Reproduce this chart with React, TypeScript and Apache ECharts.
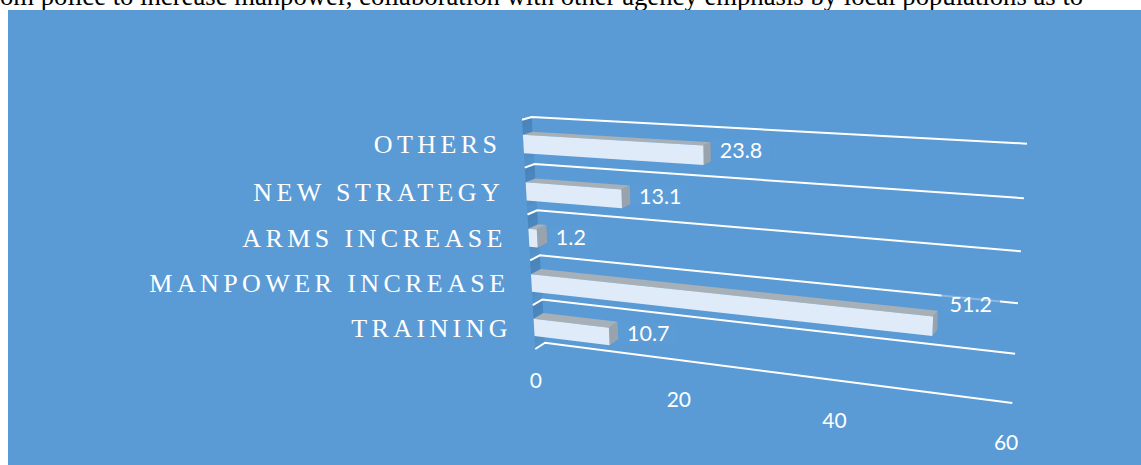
import React, { useEffect, useRef } from "react";
import * as echarts from "echarts";

const categories = ["OTHERS", "NEW STRATEGY", "ARMS INCREASE", "MANPOWER INCREASE", "TRAINING"];
const values = [23.8, 13.1, 1.2, 51.2, 10.7];
const valueTicks = [0, 20, 40, 60];
const bodyLine = "om police to increase manpower, collaboration with other agency emphasis by local populations as to";

type Pt = [number, number];
const GRID = { left: 100, top: 100, width: 600, height: 300 };

// perspective plane: unit square -> quadrilateral (tl, tr, br, bl)
function makeHomography(q: Pt[]) {
  const [[x0, y0], [x1, y1], [x2, y2], [x3, y3]] = q;
  const dx1 = x1 - x2, dx2 = x3 - x2, sx = x0 - x1 + x2 - x3;
  const dy1 = y1 - y2, dy2 = y3 - y2, sy = y0 - y1 + y2 - y3;
  const det = dx1 * dy2 - dx2 * dy1;
  const g = (sx * dy2 - dx2 * sy) / det;
  const h = (dx1 * sy - sx * dy1) / det;
  const a = x1 - x0 + g * x1, b = x3 - x0 + h * x3, c = x0;
  const d = y1 - y0 + g * y1, e = y3 - y0 + h * y3, f = y0;
  return (u: number, w: number): Pt => {
    const z = g * u + h * w + 1;
    return [(a * u + b * w + c) / z, (d * u + e * w + f) / z];
  };
}
const front = makeHomography([[522, 119.7], [1024, 147], [1008, 410], [535.3, 349]]);
const back = makeHomography([[531.7, 117], [1027, 143.7], [1012.3, 403], [545, 342.7]]);

const BAR_TOP = 0.31, BAR_BOTTOM = 0.7;
const PANEL = "#5B9BD5";
const LABEL_PAD = 8;
const labelNudge = [-2, 1, 3, -16, 3];

const toUnit = (p: number[]): Pt => [(p[0] - GRID.left) / GRID.width, (p[1] - GRID.top) / GRID.height];

function rowEdges(api: any, cat: number) {
  const centre = toUnit(api.coord([0, cat]));
  const band = api.size([0, 1])[1] / GRID.height;
  return { start: centre[1] - band / 2, band };
}

const poly = (points: Pt[], fill: string, z2 = 0) => ({
  type: "polygon",
  z2,
  shape: { points },
  style: { fill, stroke: "none" },
});

function renderWall(_: any, api: any) {
  const cat = api.value(0) as number;
  const { start, band } = rowEdges(api, cat);
  const children: any[] = [];
  const steps = 6;
  for (let i = 0; i < steps; i++) {
    const a = start + (band * i) / steps;
    const b = start + (band * (i + 1)) / steps;
    children.push(poly([front(0, a), back(0, a), back(0, b), front(0, b)], `rgba(56,110,160,${0.5 - (i * 0.38) / steps})`));
  }
  return { type: "group", children };
}

function renderRule(_: any, api: any) {
  const w = api.value(0) as number;
  const t = toUnit(api.coord([60, 0]));
  const points = [front(0, w), back(0, w), back(t[0], w)];
  return {
    type: "polyline",
    shape: { points },
    style: { stroke: "#ffffff", lineWidth: 2, fill: "none" },
  };
}

function renderBar(_: any, api: any) {
  const v = api.value(0) as number;
  const cat = api.value(1) as number;
  const { start, band } = rowEdges(api, cat);
  const u = toUnit(api.coord([v, cat]))[0];
  const w0 = start + band * BAR_TOP;
  const w1 = start + band * BAR_BOTTOM;
  return {
    type: "group",
    children: [
      poly([front(0, w0), back(0, w0), back(u, w0), front(u, w0)], "#A8B0B7"),
      poly([front(u, w0), back(u, w0), back(u, w1), front(u, w1)], "#98A3AD"),
      poly([front(0, w0), front(u, w0), front(u, w1), front(0, w1)], "#DFEBF9"),
    ],
  };
}

const valueFont = "Lato";
function renderValueLabel(_: any, api: any) {
  const v = api.value(0) as number;
  const cat = api.value(1) as number;
  const { start, band } = rowEdges(api, cat);
  const u = toUnit(api.coord([v, cat]))[0];
  const p = back(u, start + band * 0.5);
  return {
    type: "text",
    x: p[0] + (v > 50 ? 12 : 9) - LABEL_PAD,
    y: p[1] + labelNudge[cat],
    style: {
      text: String(v),
      fill: "#fff",
      font: `21.5px ${valueFont}`,
      align: "left",
      verticalAlign: "middle",
      padding: [0, LABEL_PAD],
      backgroundColor: "rgba(91,155,213,0.7)",
    },
  };
}

function renderCategoryLabel(_: any, api: any) {
  const cat = api.value(0) as number;
  const { start, band } = rowEdges(api, cat);
  const p = front(0, start + band * 0.5);
  return {
    type: "text",
    x: p[0] - 22,
    y: p[1] + 1,
    style: {
      text: categories[cat],
      fill: "#fff",
      font: "26px 'Liberation Serif'",
      align: "right",
      verticalAlign: "middle",
    },
  };
}

function renderValueTick(_: any, api: any) {
  const v = api.value(0) as number;
  const u = toUnit(api.coord([v, 0]))[0];
  const p = front(u, 1.13);
  return {
    type: "text",
    x: p[0] - (v === 0 ? 1 : 0),
    y: p[1] + 3 * (1 - v / 60),
    style: { text: String(v), fill: "#fff", font: `21px ${valueFont}`, align: "center", verticalAlign: "middle" },
  };
}

export default function App() {
  const ref = useRef<HTMLDivElement>(null);
  useEffect(() => {
    const el = ref.current!;
    const chart = echarts.init(el, undefined, { renderer: "svg" });
    const custom = (name: string, renderItem: any, data: any[], z: number, encode: any = undefined) => ({
      type: "custom",
      name,
      renderItem,
      data,
      z,
      clip: false,
      silent: true,
      ...(encode ? { encode } : {}),
    });
    const rows = categories.map((_, i) => [i]);
    const rules = categories.map((_, i) => [i / categories.length]).concat([[1]]);
    const barData = values.map((v, i) => [v, i]);
    chart.setOption({
      animation: false,
      backgroundColor: "#ffffff",
      grid: { ...GRID, containLabel: false },
      xAxis: { type: "value", min: 0, max: 60, interval: 20, show: false },
      yAxis: { type: "category", data: categories, inverse: true, show: false },
      graphic: [
        {
          type: "text",
          z: -2,
          x: 0,
          y: -18,
          style: { text: bodyLine, fill: "#000", font: "26.7px 'Liberation Serif'" },
        },
        { type: "rect", z: -1, shape: { x: 8, y: 10, width: 1133, height: 455 }, style: { fill: PANEL } },
      ],
      series: [
        custom("wall", renderWall, rows, 2, { x: [], y: [] }),
        custom("rules", renderRule, rules, 3, { x: [], y: [] }),
        custom("bars", renderBar, barData, 4, { x: 0, y: 1 }),
        custom("category labels", renderCategoryLabel, rows, 5, { x: [], y: [] }),
        custom("value ticks", renderValueTick, valueTicks.map((v) => [v]), 5, { x: [], y: [] }),
        custom("value labels", renderValueLabel, barData, 5, { x: 0, y: 1 }),
      ],
    });
    el.querySelectorAll("text").forEach((t) => {
      if (categories.includes(t.textContent || "")) t.style.letterSpacing = "4.4px";
    });
    return () => chart.dispose();
  }, []);
  return <div ref={ref} style={{ position: "fixed", left: 0, top: 0, width: 1141, height: 465 }} />;
}
